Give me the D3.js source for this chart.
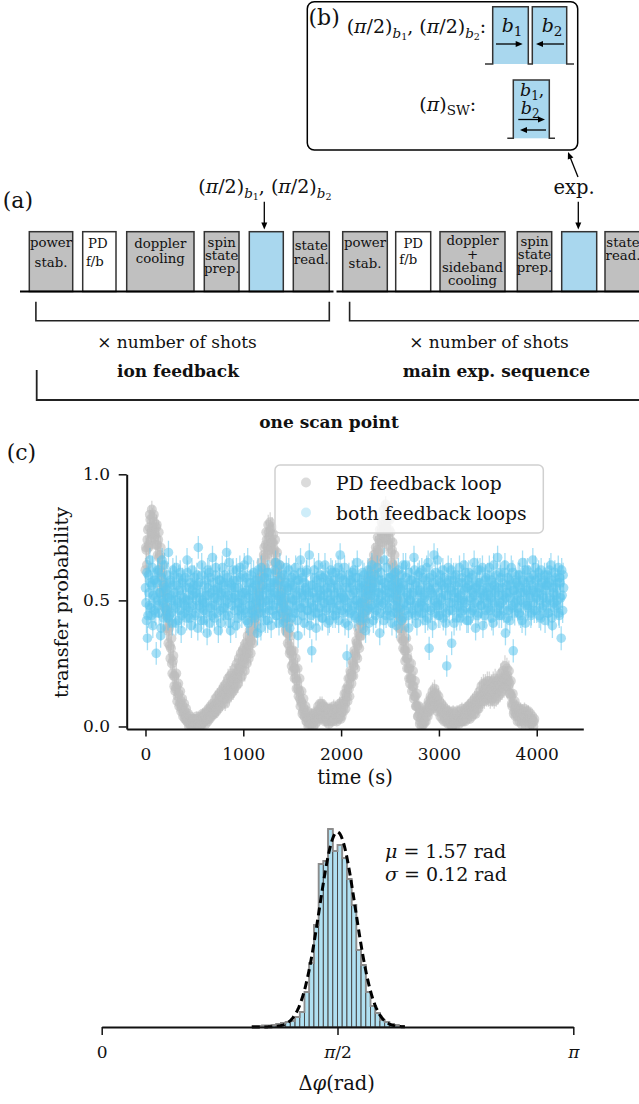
<!DOCTYPE html>
<html><head><meta charset="utf-8">
<script src="https://cdn.jsdelivr.net/npm/d3@7"></script>
<style>
body{margin:0;background:#fff}
svg{display:block}
text{font-family:'DejaVu Serif',serif;white-space:pre;fill:#111}
</style>
</head><body>
<svg id="fig" width="639" height="1104"></svg>
<script>
// ================= DATA =================
// (a) sequence steps
const ionFeedbackSteps = [
  {lines:["power","stab."], kind:"prep"},
  {lines:["PD","f/b"], kind:"fb"},
  {lines:["doppler","cooling"], kind:"prep"},
  {lines:["spin","state","prep."], kind:"prep"},
  {lines:[], kind:"pulse"},
  {lines:["state","read."], kind:"prep"}
];
const mainSequenceSteps = [
  {lines:["power","stab."], kind:"prep"},
  {lines:["PD","f/b"], kind:"fb"},
  {lines:["doppler","+","sideband","cooling"], kind:"prep"},
  {lines:["spin","state","prep."], kind:"prep"},
  {lines:[], kind:"pulse"},
  {lines:["state","read."], kind:"prep"}
];
const repeatLabel = "× number of shots";
const blockLabels = ["ion feedback", "main exp. sequence"];
const scanLabel = "one scan point";

// (c) transfer probability vs time
// two interleaved sets of scan points: set A at t = 0,10,20,... s, set B at t = 5,15,25,... s
const sampleIntervalS = 10;
const setBOffsetS = 5;
const shotsPerPoint = 100;
const pdLoopA = [
0.62,0.70,0.74,0.71,0.79,0.82,0.77,0.83,0.79,0.81,
0.76,0.79,0.72,0.74,0.67,0.68,0.60,0.61,0.53,0.55,
0.47,0.44,0.45,0.38,0.39,0.32,0.31,0.25,0.26,0.20,
0.20,0.15,0.16,0.12,0.13,0.09,0.10,0.07,0.08,0.05,
0.06,0.03,0.04,0.02,0.03,0.01,0.02,0.00,0.02,0.01,
0.00,0.02,0.01,0.03,0.01,0.02,0.00,0.03,0.02,0.04,
0.02,0.04,0.03,0.05,0.03,0.06,0.04,0.07,0.05,0.06,
0.08,0.06,0.09,0.07,0.10,0.09,0.11,0.10,0.12,0.11,
0.13,0.11,0.14,0.13,0.15,0.14,0.16,0.18,0.15,0.18,
0.19,0.17,0.20,0.21,0.19,0.23,0.22,0.24,0.23,0.26,
0.25,0.28,0.27,0.30,0.29,0.33,0.32,0.35,0.34,0.38,
0.39,0.43,0.42,0.46,0.47,0.51,0.53,0.55,0.59,0.61,
0.63,0.68,0.67,0.72,0.74,0.71,0.77,0.75,0.78,0.73,
0.73,0.69,0.70,0.65,0.63,0.62,0.57,0.58,0.53,0.51,
0.49,0.48,0.44,0.43,0.39,0.37,0.37,0.32,0.30,0.30,
0.28,0.25,0.23,0.23,0.19,0.18,0.15,0.14,0.11,0.10,
0.09,0.06,0.07,0.04,0.05,0.02,0.03,0.01,0.02,0.03,
0.01,0.03,0.02,0.04,0.03,0.05,0.04,0.06,0.05,0.07,
0.06,0.08,0.05,0.06,0.04,0.05,0.03,0.05,0.04,0.06,
0.04,0.06,0.05,0.03,0.05,0.04,0.06,0.03,0.05,0.04,
0.07,0.06,0.09,0.10,0.09,0.13,0.12,0.16,0.15,0.19,
0.21,0.20,0.25,0.24,0.29,0.28,0.33,0.32,0.37,0.36,
0.41,0.40,0.45,0.44,0.49,0.48,0.53,0.52,0.56,0.55,
0.59,0.58,0.62,0.61,0.66,0.65,0.67,0.70,0.69,0.74,
0.73,0.77,0.76,0.80,0.78,0.84,0.79,0.82,0.77,0.78,
0.74,0.69,0.70,0.64,0.63,0.58,0.56,0.51,0.50,0.44,
0.43,0.39,0.38,0.34,0.34,0.30,0.30,0.27,0.27,0.23,
0.23,0.19,0.19,0.16,0.16,0.12,0.12,0.08,0.08,0.04,
0.05,0.02,0.03,0.01,0.04,0.02,0.05,0.04,0.07,0.06,
0.09,0.08,0.11,0.10,0.12,0.10,0.13,0.09,0.11,0.08,
0.08,0.07,0.06,0.07,0.05,0.06,0.04,0.05,0.03,0.04,
0.03,0.04,0.02,0.04,0.03,0.02,0.04,0.03,0.02,0.03,
0.04,0.03,0.04,0.02,0.05,0.03,0.04,0.05,0.04,0.06,
0.05,0.06,0.05,0.07,0.06,0.08,0.07,0.09,0.08,0.10,
0.11,0.10,0.12,0.11,0.13,0.12,0.14,0.13,0.15,0.13,
0.15,0.13,0.14,0.12,0.15,0.13,0.14,0.16,0.13,0.15,
0.16,0.15,0.17,0.16,0.18,0.17,0.19,0.18,0.20,0.19,
0.20,0.18,0.17,0.13,0.12,0.08,0.09,0.06,0.07,0.05,
0.05,0.04,0.06,0.04,0.05,0.03,0.05,0.04,0.03,0.05,
0.04,0.03,0.04,0.02,0.03,0.03,0.02,0.02
];
const pdLoopB = [
0.71,0.64,0.78,0.72,0.84,0.74,0.86,0.76,0.84,0.75,
0.72,0.80,0.68,0.77,0.62,0.71,0.55,0.64,0.48,0.57,
0.53,0.39,0.47,0.33,0.41,0.27,0.35,0.21,0.28,0.16,
0.14,0.21,0.10,0.17,0.08,0.14,0.06,0.11,0.04,0.09,
0.03,0.07,0.02,0.05,0.00,0.04,0.01,0.03,0.00,0.03,
0.03,0.00,0.04,0.01,0.03,0.00,0.04,0.01,0.05,0.02,
0.05,0.01,0.06,0.02,0.07,0.03,0.08,0.04,0.09,0.05,
0.05,0.11,0.06,0.12,0.07,0.13,0.08,0.14,0.09,0.15,
0.16,0.09,0.17,0.11,0.19,0.12,0.20,0.13,0.21,0.14,
0.15,0.23,0.16,0.25,0.17,0.27,0.19,0.29,0.20,0.30,
0.31,0.22,0.33,0.25,0.36,0.27,0.38,0.29,0.42,0.33,
0.46,0.37,0.49,0.40,0.54,0.45,0.59,0.50,0.65,0.56,
0.60,0.71,0.63,0.77,0.68,0.80,0.70,0.81,0.71,0.79,
0.76,0.65,0.74,0.61,0.69,0.56,0.64,0.51,0.59,0.46,
0.54,0.42,0.50,0.38,0.45,0.33,0.41,0.29,0.36,0.24,
0.22,0.30,0.19,0.27,0.15,0.23,0.12,0.19,0.08,0.14,
0.05,0.11,0.04,0.08,0.02,0.06,0.00,0.04,0.01,0.05,
0.04,0.00,0.05,0.01,0.06,0.02,0.08,0.03,0.09,0.04,
0.09,0.03,0.08,0.02,0.07,0.02,0.07,0.01,0.07,0.02,
0.07,0.02,0.08,0.03,0.07,0.02,0.08,0.04,0.09,0.03,
0.04,0.10,0.06,0.13,0.07,0.15,0.10,0.19,0.12,0.22,
0.17,0.26,0.20,0.30,0.23,0.34,0.27,0.39,0.31,0.43,
0.36,0.47,0.39,0.50,0.42,0.55,0.46,0.59,0.50,0.62,
0.54,0.65,0.57,0.68,0.60,0.71,0.63,0.75,0.66,0.78,
0.70,0.81,0.73,0.86,0.75,0.88,0.74,0.85,0.72,0.82,
0.77,0.65,0.73,0.60,0.68,0.54,0.61,0.47,0.55,0.39,
0.46,0.35,0.42,0.31,0.39,0.26,0.35,0.23,0.31,0.19,
0.17,0.25,0.14,0.22,0.11,0.18,0.08,0.13,0.04,0.08,
0.01,0.06,0.00,0.05,0.01,0.06,0.02,0.08,0.04,0.10,
0.06,0.12,0.07,0.14,0.08,0.15,0.08,0.13,0.06,0.12,
0.10,0.04,0.09,0.03,0.08,0.02,0.07,0.02,0.06,0.01,
0.06,0.01,0.05,0.00,0.06,0.01,0.05,0.01,0.06,0.02,
0.01,0.06,0.02,0.07,0.02,0.06,0.02,0.07,0.03,0.08,
0.08,0.03,0.09,0.04,0.10,0.05,0.11,0.05,0.12,0.07,
0.07,0.14,0.09,0.16,0.10,0.17,0.10,0.17,0.11,0.18,
0.11,0.18,0.10,0.17,0.11,0.18,0.10,0.19,0.11,0.18,
0.12,0.19,0.13,0.21,0.14,0.22,0.15,0.24,0.16,0.23,
0.16,0.22,0.13,0.18,0.09,0.13,0.05,0.10,0.04,0.08,
0.02,0.07,0.02,0.07,0.01,0.06,0.02,0.07,0.01,0.06,
0.02,0.06,0.01,0.05,0.01,0.04,0.00,0.03
];
const bothLoopsA = [
0.55,0.42,0.35,0.60,0.48,0.57,0.44,0.63,0.52,0.46,
0.58,0.29,0.50,0.61,0.45,0.53,0.39,0.66,0.49,0.56,
0.47,0.54,0.60,0.43,0.51,0.57,0.45,0.50,0.62,0.48,
0.53,0.41,0.56,0.49,0.59,0.46,0.52,0.44,0.58,0.51,
0.48,0.55,0.43,0.61,0.50,0.47,0.57,0.40,0.54,0.52,
0.59,0.45,0.50,0.56,0.71,0.48,0.53,0.42,0.60,0.49,
0.46,0.58,0.52,0.37,0.55,0.61,0.47,0.53,0.44,0.57,
0.51,0.48,0.63,0.45,0.54,0.50,0.58,0.41,0.52,0.56,
0.47,0.60,0.53,0.69,0.49,0.44,0.57,0.38,0.55,0.51,
0.58,0.46,0.52,0.62,0.43,0.55,0.49,0.59,0.47,0.53,
0.50,0.64,0.45,0.54,0.57,0.41,0.52,0.48,0.60,0.46,
0.55,0.51,0.43,0.58,0.49,0.62,0.47,0.53,0.39,0.56,
0.52,0.45,0.59,0.50,0.54,0.42,0.61,0.48,0.55,0.51,
0.46,0.57,0.53,0.65,0.44,0.50,0.58,0.47,0.52,0.60,
0.49,0.41,0.56,0.51,0.63,0.46,0.54,0.48,0.57,0.43,
0.55,0.50,0.60,0.45,0.52,0.58,0.36,0.53,0.47,0.61,
0.51,0.44,0.57,0.49,0.54,0.62,0.46,0.52,0.40,0.56,
0.30,0.53,0.48,0.59,0.45,0.55,0.51,0.64,0.47,0.52,
0.57,0.43,0.54,0.49,0.60,0.46,0.53,0.58,0.42,0.50,
0.55,0.61,0.47,0.52,0.44,0.56,0.50,0.63,0.48,0.68,
0.53,0.46,0.58,0.51,0.41,0.55,0.28,0.49,0.60,0.45,
0.52,0.57,0.48,0.62,0.54,0.43,0.50,0.59,0.46,0.55,
0.49,0.53,0.61,0.45,0.56,0.38,0.52,0.58,0.47,0.54,
0.60,0.48,0.55,0.42,0.51,0.57,0.46,0.63,0.50,0.53,
0.45,0.58,0.52,0.49,0.66,0.54,0.44,0.56,0.51,0.47,
0.59,0.53,0.41,0.55,0.48,0.61,0.50,0.45,0.57,0.52,
0.47,0.54,0.60,0.43,0.56,0.51,0.64,0.48,0.53,0.39,
0.55,0.50,0.58,0.46,0.52,0.62,0.44,0.57,0.49,0.54,
0.61,0.45,0.53,0.48,0.59,0.51,0.42,0.56,0.50,0.65,
0.31,0.54,0.47,0.60,0.52,0.68,0.45,0.55,0.49,0.58,
0.53,0.44,0.57,0.50,0.62,0.47,0.55,0.41,0.24,0.52,
0.58,0.49,0.54,0.33,0.46,0.60,0.51,0.56,0.43,0.53,
0.48,0.63,0.52,0.45,0.57,0.50,0.54,0.61,0.47,0.55,
0.42,0.56,0.51,0.59,0.46,0.53,0.65,0.49,0.55,0.44,
0.57,0.50,0.62,0.48,0.54,0.40,0.52,0.58,0.46,0.53,
0.60,0.47,0.55,0.51,0.43,0.57,0.64,0.49,0.54,0.45,
0.67,0.52,0.48,0.59,0.44,0.55,0.50,0.61,0.37,0.53,
0.56,0.46,0.58,0.51,0.63,0.47,0.30,0.54,0.49,0.57,
0.52,0.60,0.45,0.55,0.50,0.42,0.58,0.53,0.62,0.48,
0.54,0.47,0.59,0.51,0.44,0.56,0.66,0.49,0.53,0.58,
0.46,0.55,0.61,0.50,0.43,0.57,0.52,0.48,0.60,0.54,
0.49,0.56,0.45,0.62,0.51,0.58,0.40,0.53,0.47,0.59,
0.55,0.50,0.63,0.44,0.57,0.35,0.52,0.60
];
const bothLoopsB = [
0.49,0.61,0.44,0.53,0.66,0.47,0.56,0.40,0.58,0.51,
0.45,0.57,0.62,0.48,0.53,0.36,0.59,0.50,0.43,0.64,
0.55,0.46,0.51,0.69,0.44,0.58,0.52,0.41,0.56,0.60,
0.47,0.63,0.50,0.42,0.54,0.61,0.38,0.57,0.49,0.45,
0.59,0.50,0.66,0.46,0.55,0.43,0.52,0.62,0.48,0.56,
0.44,0.53,0.60,0.39,0.57,0.51,0.47,0.64,0.50,0.42,
0.56,0.49,0.45,0.62,0.52,0.41,0.59,0.48,0.67,0.54,
0.43,0.60,0.51,0.55,0.38,0.58,0.46,0.53,0.63,0.47,
0.57,0.44,0.50,0.59,0.52,0.65,0.41,0.56,0.48,0.62,
0.51,0.55,0.40,0.58,0.49,0.46,0.63,0.52,0.44,0.60,
0.46,0.53,0.59,0.42,0.66,0.51,0.48,0.57,0.45,0.54,
0.61,0.44,0.56,0.50,0.37,0.58,0.52,0.45,0.63,0.49,
0.47,0.59,0.42,0.55,0.61,0.50,0.46,0.57,0.40,0.53,
0.58,0.48,0.62,0.44,0.52,0.56,0.41,0.64,0.50,0.45,
0.53,0.60,0.47,0.57,0.43,0.55,0.62,0.39,0.51,0.59,
0.45,0.56,0.50,0.63,0.48,0.42,0.58,0.54,0.66,0.47,
0.59,0.52,0.41,0.55,0.61,0.46,0.53,0.68,0.49,0.44,
0.56,0.47,0.62,0.51,0.39,0.58,0.45,0.54,0.60,0.50,
0.43,0.59,0.52,0.64,0.47,0.55,0.41,0.50,0.57,0.62,
0.49,0.44,0.58,0.53,0.61,0.46,0.55,0.42,0.59,0.51,
0.60,0.52,0.45,0.63,0.50,0.57,0.47,0.40,0.55,0.58,
0.46,0.61,0.53,0.44,0.59,0.50,0.65,0.48,0.56,0.42,
0.57,0.49,0.43,0.60,0.51,0.54,0.46,0.62,0.41,0.58,
0.52,0.64,0.47,0.55,0.60,0.44,0.53,0.49,0.58,0.37,
0.61,0.48,0.55,0.42,0.57,0.50,0.63,0.46,0.59,0.53,
0.44,0.56,0.60,0.51,0.45,0.58,0.40,0.54,0.62,0.48,
0.55,0.42,0.57,0.64,0.49,0.46,0.59,0.52,0.44,0.61,
0.50,0.58,0.45,0.53,0.67,0.48,0.56,0.41,0.60,0.47,
0.54,0.49,0.62,0.45,0.52,0.58,0.47,0.63,0.43,0.55,
0.59,0.46,0.53,0.40,0.57,0.50,0.61,0.48,0.66,0.44,
0.48,0.60,0.51,0.56,0.43,0.59,0.52,0.45,0.57,0.63,
0.46,0.55,0.62,0.49,0.58,0.41,0.53,0.60,0.47,0.51,
0.57,0.43,0.50,0.59,0.46,0.64,0.49,0.55,0.42,0.58,
0.61,0.50,0.45,0.54,0.60,0.47,0.52,0.39,0.56,0.62,
0.45,0.57,0.53,0.48,0.63,0.51,0.44,0.59,0.55,0.49,
0.52,0.63,0.46,0.58,0.50,0.41,0.56,0.53,0.60,0.47,
0.55,0.44,0.61,0.49,0.57,0.52,0.46,0.64,0.51,0.43,
0.59,0.53,0.42,0.56,0.48,0.61,0.54,0.45,0.58,0.50,
0.47,0.56,0.60,0.44,0.53,0.65,0.49,0.57,0.41,0.55,
0.62,0.48,0.52,0.58,0.45,0.54,0.60,0.46,0.63,0.51,
0.53,0.59,0.44,0.55,0.62,0.47,0.51,0.58,0.42,0.56,
0.60,0.45,0.57,0.50,0.64,0.43,0.55,0.49,0.61,0.52,
0.48,0.57,0.45,0.59,0.51,0.62,0.46,0.55
];
const timeTicks = [0, 1000, 2000, 3000, 4000];
const probTicks = [0.0, 0.5, 1.0];
const legendLabels = ["PD feedback loop", "both feedback loops"];

// phase histogram
const histBinLeft = [1.0053,1.0367,1.0681,1.0996,1.1310,1.1624,1.1938,1.2252,1.2566,1.2881,1.3195,1.3509,1.3823,1.4137,1.4451,1.4765,1.5080,1.5394,1.5708,1.6022,1.6336,1.6650,1.6965,1.7279,1.7593,1.7907,1.8221,1.8535,1.8850,1.9164,1.9478,1.9792];
const histBinWidth = 0.0314;
const histCounts = [1,1,1.5,1.5,2,3,4,5,6,10,15,35,64,102,163,166,198,176,182,169,148,122,77,62,35,21,14,7,5,3,2,1];
const fitMu = 1.57, fitSigma = 0.12, fitAmp = 195;
const phaseTicks = [0, Math.PI/2, Math.PI];

// ================= DRAWING =================
const svg = d3.select('#fig');
svg.append('rect').attr('width',639).attr('height',1104).attr('fill','#fff');
const FONT = "'DejaVu Serif', serif";
const BLUE_BOX = '#a9d7ee', GREY_BOX = '#c0c0c0', EDGE = '#333';

function richText(g, x, y, parts, anchor) {
  const t = g.append('text').attr('x', x).attr('y', y).attr('text-anchor', anchor || 'start');
  let cur = 0;
  parts.forEach(p => {
    const [str, size, italic, off = 0, bold] = p;
    const ts = t.append('tspan').text(str).attr('font-size', size);
    if (italic) ts.attr('font-style', 'italic');
    if (bold) ts.attr('font-weight', 'bold');
    if (off !== cur) { ts.attr('dy', off - cur); cur = off; }
  });
  return t;
}
function arrow(g, x1, y1, x2, y2, head = 7, hw = 3) {
  const dx = x2 - x1, dy = y2 - y1, L = Math.hypot(dx, dy), ux = dx / L, uy = dy / L;
  const bx = x2 - ux * head, by = y2 - uy * head;
  g.append('line').attr('x1', x1).attr('y1', y1).attr('x2', bx + ux).attr('y2', by + uy)
    .attr('stroke', '#000').attr('stroke-width', 1.3);
  g.append('path').attr('d', `M${x2},${y2}L${bx - uy * hw},${by + ux * hw}L${bx + uy * hw},${by - ux * hw}Z`).attr('fill', '#000');
}

const halfPiLabel = [["(",19],["π",19,1],["/2)",19],["b",13.5,1,4.5],["1",9.5,0,7],[", ",19,0,0],
                     ["(",19],["π",19,1],["/2)",19],["b",13.5,1,4.5],["2",9.5,0,7]];

// ---------- panel (b) ----------
const gB = svg.append('g');
gB.append('rect').attr('x',307.3).attr('y',1.7).attr('width',270.4).attr('height',148.3).attr('rx',7)
  .attr('fill','#fff').attr('stroke','#000').attr('stroke-width',1.5);
gB.append('text').attr('x',308.5).attr('y',25).attr('font-size',22).text('(b)');
richText(gB, 346.7, 33.3, halfPiLabel.concat([[":",19,0,0]]));
gB.append('rect').attr('x',492.7).attr('y',6.7).attr('width',35.6).attr('height',57.3).attr('fill',BLUE_BOX);
gB.append('rect').attr('x',532.3).attr('y',6.7).attr('width',34.4).attr('height',57.3).attr('fill',BLUE_BOX);
gB.append('path').attr('d','M485,64H492.7V6.7H528.3V64H532.3V6.7H566.7V64H574').attr('fill','none').attr('stroke',EDGE).attr('stroke-width',1.5);
richText(gB, 501.7, 31.7, [["b",19,1],["1",13.5,0,4.5]]);
richText(gB, 541.7, 31.7, [["b",19,1],["2",13.5,0,4.5]]);
arrow(gB, 496, 44, 522.7, 44);
arrow(gB, 564, 44, 536, 44);
richText(gB, 419.3, 110.7, [["(",19],["π",19,1],[")",19],["SW",13.5,0,4.5],[":",19,0,0]]);
gB.append('rect').attr('x',513.3).attr('y',80).attr('width',36).attr('height',58.3).attr('fill',BLUE_BOX);
gB.append('path').attr('d','M507.3,138.3H513.3V80H549.3V138.3H555').attr('fill','none').attr('stroke',EDGE).attr('stroke-width',1.5);
richText(gB, 520, 95.5, [["b",17.5,1],["1",12,0,4],[",",17.5,0,0]]);
richText(gB, 520.7, 113.5, [["b",17.5,1],["2",12,0,4]]);
arrow(gB, 518.3, 119.5, 545, 119.5);
arrow(gB, 546, 130, 520, 130);

// ---------- panel (a) ----------
const gA = svg.append('g');
gA.append('text').attr('x',2.7).attr('y',208.3).attr('font-size',22).text('(a)');
richText(gA, 198.3, 193.3, halfPiLabel);
arrow(gA, 264.3, 201.7, 264.3, 229.5);
gA.append('text').attr('x',574.2).attr('y',194).attr('font-size',19.5).attr('text-anchor','middle').text('exp.');
arrow(gA, 578.3, 201.7, 578.3, 229.5);
arrow(gA, 578, 177, 568, 152);

const boxTop = 231.7, boxBottom = 291.5;
const leftLayout = [
  {x0:29.3, x1:72.7, base:[247,267]},
  {x0:82.7, x1:116, base:[248,266], dx:[-1.5,-4.5]},
  {x0:126.7, x1:194, base:[248,263]},
  {x0:204.3, x1:239, base:[247,260,273]},
  {x0:249.3, x1:283.3, base:[]},
  {x0:293.3, x1:329.3, base:[250,264]}
];
const rightLayout = [
  {x0:342.7, x1:387.3, base:[247,268]},
  {x0:395.7, x1:430.7, base:[248,264], dx:[0,-5]},
  {x0:440, x1:505, base:[245,259,272,285]},
  {x0:517.3, x1:551.7, base:[246,259,272]},
  {x0:561.7, x1:596.7, base:[]},
  {x0:605, x1:641, base:[247,260]}
];
function drawSequence(steps, layout) {
  steps.forEach((s, i) => {
    const L = layout[i];
    const fill = s.kind === 'pulse' ? BLUE_BOX : (s.kind === 'fb' ? '#fff' : GREY_BOX);
    gA.append('rect').attr('x', L.x0).attr('y', boxTop).attr('width', L.x1 - L.x0).attr('height', boxBottom - boxTop)
      .attr('fill', fill).attr('stroke', EDGE).attr('stroke-width', 1.5);
    s.lines.forEach((ln, j) => {
      gA.append('text').attr('x', (L.x0 + L.x1) / 2 + (L.dx ? L.dx[j] : 0)).attr('y', L.base[j])
        .attr('text-anchor', 'middle').attr('font-size', 13.3).text(ln);
    });
  });
}
drawSequence(ionFeedbackSteps, leftLayout);
drawSequence(mainSequenceSteps, rightLayout);
gA.append('line').attr('x1',20).attr('x2',333.5).attr('y1',boxBottom).attr('y2',boxBottom).attr('stroke','#000').attr('stroke-width',2);
gA.append('line').attr('x1',336.5).attr('x2',640).attr('y1',boxBottom).attr('y2',boxBottom).attr('stroke','#000').attr('stroke-width',2);
gA.append('path').attr('d','M35.9,301.7V320.7H329.3V301.7').attr('fill','none').attr('stroke','#222').attr('stroke-width',1.6);
gA.append('path').attr('d','M349.6,301.7V320.7H641').attr('fill','none').attr('stroke','#222').attr('stroke-width',1.6);
gA.append('path').attr('d','M36.7,370V400H641').attr('fill','none').attr('stroke','#222').attr('stroke-width',1.8);
gA.append('text').attr('x',177).attr('y',348).attr('text-anchor','middle').attr('font-size',17).text(repeatLabel);
gA.append('text').attr('x',489).attr('y',348).attr('text-anchor','middle').attr('font-size',17).text(repeatLabel);
gA.append('text').attr('x',178).attr('y',377).attr('text-anchor','middle').attr('font-size',17).attr('font-weight','bold').text(blockLabels[0]);
gA.append('text').attr('x',496.5).attr('y',377).attr('text-anchor','middle').attr('font-size',17).attr('font-weight','bold').text(blockLabels[1]);
gA.append('text').attr('x',329).attr('y',428).attr('text-anchor','middle').attr('font-size',17).attr('font-weight','bold').text(scanLabel);

// ---------- panel (c): time series ----------
const gC = svg.append('g');
gC.append('text').attr('x',6.7).attr('y',460).attr('font-size',22).text('(c)');
const xT = d3.scaleLinear().domain([-192, 4476]).range([126.7, 583.3]);
const yP = d3.scaleLinear().domain([-0.01, 1.0]).range([729, 474.3]);
svg.append('clipPath').attr('id','clipC').append('rect')
  .attr('x',126.7).attr('y',474.3).attr('width',456.6).attr('height',254.7);
const plot = gC.append('g').attr('clip-path','url(#clipC)');
function points(setA, setB) {
  return setA.map((p, i) => ({t: i * sampleIntervalS, p}))
    .concat(setB.map((p, i) => ({t: setBOffsetS + i * sampleIntervalS, p})))
    .sort((a, b) => a.t - b.t)
    .map(d => ({...d, e: Math.max(0.015, Math.sqrt(d.p * (1 - d.p) / shotsPerPoint))}));
}
function drawSeries(pts, color, alpha, r) {
  const g = plot.append('g');
  g.selectAll('line').data(pts).join('line')
    .attr('x1', d => xT(d.t)).attr('x2', d => xT(d.t))
    .attr('y1', d => yP(d.p - d.e)).attr('y2', d => yP(d.p + d.e))
    .attr('stroke', color).attr('stroke-opacity', alpha).attr('stroke-width', 1.3);
  g.selectAll('circle').data(pts).join('circle')
    .attr('cx', d => xT(d.t)).attr('cy', d => yP(d.p)).attr('r', r)
    .attr('fill', color).attr('fill-opacity', alpha);
}
const GREY_PT = '#bdbdbd', BLUE_PT = '#5cc5ec';
drawSeries(points(pdLoopA, pdLoopB), GREY_PT, 0.6, 5);
drawSeries(points(bothLoopsA, bothLoopsB), BLUE_PT, 0.55, 4.8);

function styleAxis(g, fs) {
  g.attr('font-family', FONT).attr('font-size', fs);
  g.select('.domain').attr('stroke', '#111').attr('stroke-width', 2);
  g.selectAll('.tick line').attr('stroke', '#111').attr('stroke-width', 1.5);
  g.selectAll('.tick text').attr('fill', '#111');
}
const axB = gC.append('g').attr('transform','translate(0,729)')
  .call(d3.axisBottom(xT).tickValues(timeTicks).tickFormat(d3.format('d')).tickSize(7.5).tickPadding(11).tickSizeOuter(0));
styleAxis(axB, 17);
const axL = gC.append('g').attr('transform','translate(126.7,0)')
  .call(d3.axisLeft(yP).tickValues(probTicks).tickFormat(d3.format('.1f')).tickSize(8).tickPadding(8.7).tickSizeOuter(0));
styleAxis(axL, 17);
gC.append('text').attr('transform','translate(67.5,602.5) rotate(-90)').attr('text-anchor','middle').attr('font-size',19.3).text('transfer probability');
gC.append('text').attr('x',355).attr('y',784).attr('text-anchor','middle').attr('font-size',19.5).text('time (s)');
const lg = gC.append('g');
lg.append('rect').attr('x',275).attr('y',465).attr('width',268.3).attr('height',68).attr('rx',5)
  .attr('fill','#fff').attr('fill-opacity',0.8).attr('stroke','#d0d0d0').attr('stroke-width',1.5);
[[GREY_PT,0.55,482.5,490],[BLUE_PT,0.3,512.5,520]].forEach((c, i) => {
  lg.append('circle').attr('cx',306).attr('cy',c[2]).attr('r',5).attr('fill',c[0]).attr('fill-opacity',c[1]);
  lg.append('text').attr('x',336).attr('y',c[3]).attr('font-size',18.7).text(legendLabels[i]);
});

// ---------- histogram ----------
const gH = svg.append('g');
const xH = d3.scaleLinear().domain([0, Math.PI]).range([101.7, 573.3]);
const yH = d3.scaleLinear().domain([0, 200]).range([1027, 827]);
const bins = histBinLeft.map((l, i) => ({l, r: l + histBinWidth, c: histCounts[i]}));
gH.selectAll('rect.bar').data(bins).join('rect').attr('class','bar')
  .attr('x', d => xH(d.l)).attr('width', d => xH(d.r) - xH(d.l))
  .attr('y', d => yH(d.c)).attr('height', d => yH(0) - yH(d.c))
  .attr('fill', '#b0e0f1').attr('stroke', '#4a4a4a').attr('stroke-width', 1);
let step = `M${xH(bins[0].l)},${yH(0)}`;
bins.forEach(b => { step += `V${yH(b.c)}H${xH(b.r)}`; });
step += `V${yH(0)}`;
gH.append('path').attr('d', step).attr('fill','none').attr('stroke','#8c8c8c').attr('stroke-width',1.8);
const fitPts = d3.range(1.0, 2.021, 0.005).map(p => [p, fitAmp * Math.exp(-0.5 * ((p - fitMu) / fitSigma) ** 2)]);
gH.append('path').attr('d', d3.line().x(d => xH(d[0])).y(d => yH(d[1]))(fitPts))
  .attr('fill','none').attr('stroke','#000').attr('stroke-width',3).attr('stroke-dasharray','8,4.5');
const axH = gH.append('g').attr('transform','translate(0,1027)')
  .call(d3.axisBottom(xH).tickValues(phaseTicks).tickFormat(() => '').tickSize(8).tickPadding(11).tickSizeOuter(0));
styleAxis(axH, 17);
const tickParts = [[["0"]], [["π",1],["/2"]], [["π",1]]];
axH.selectAll('.tick text').each(function(d, i) {
  const t = d3.select(this);
  tickParts[i].forEach(p => { const s = t.append('tspan').text(p[0]); if (p[1]) s.attr('font-style','italic'); });
});
richText(gH, 336.7, 1090, [["Δ",19.5],["φ",19.5,1],["(rad)",19.5]], 'middle');
richText(gH, 385, 858, [["μ",19,1],[" = 1.57 rad",19]]);
richText(gH, 385, 881, [["σ",19,1],[" = 0.12 rad",19]]);
</script>
</body></html>
